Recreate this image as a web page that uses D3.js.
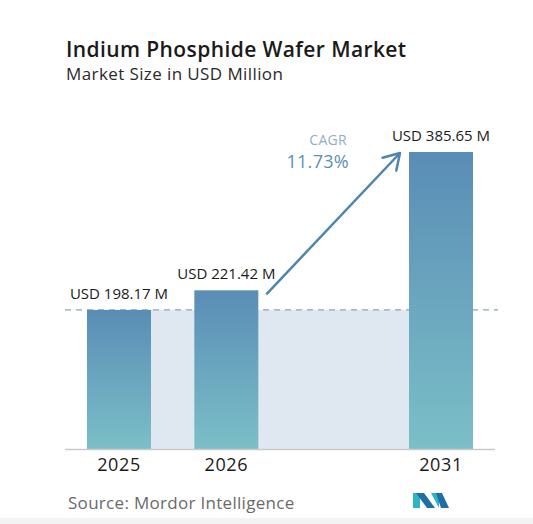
<!DOCTYPE html>
<html>
<head>
<meta charset="utf-8">
<script src="https://cdn.jsdelivr.net/npm/d3@7"></script>
<style>
  html, body { margin: 0; padding: 0; background: #fff; }
  svg { display: block; font-family: "Open Sans", sans-serif; }
</style>
</head>
<body>
<svg id="chart" width="533" height="524"></svg>
<script>
// data
var years = ["2025", "2026", "2031"];
var marketSize = [198.17, 221.42, 385.65];
var valueLabels = ["USD 198.17 M", "USD 221.42 M", "USD 385.65 M"];
var cagrLabel = "CAGR";
var cagrValue = "11.73%";

var title = "Indium Phosphide Wafer Market";
var subtitle = "Market Size in USD Million";
var source = "Source: Mordor Intelligence";

var svg = d3.select("#chart");
var W = 533, H = 524;
var baseY = 449, barW = 64;

// 2025, 2026 sit next to each other, 2031 one slot further
var slot = { "2025": 0, "2026": 1, "2031": 3 };
var x = d3.scaleLinear().domain([0, 3]).range([119, 441]);
var y = d3.scaleLinear().domain([33, 385.65]).range([baseY, 152]);

var data = years.map((d, i) => ({ year: d, value: marketSize[i], label: valueLabels[i] }));

var defs = svg.append("defs");
var grad = defs.append("linearGradient")
    .attr("id", "barGrad")
    .attr("x1", 0).attr("y1", 0).attr("x2", 0).attr("y2", 1);
grad.append("stop").attr("offset", "0%").attr("stop-color", "#5a8db6");
grad.append("stop").attr("offset", "100%").attr("stop-color", "#7bbfc7");

// titles
svg.append("text")
    .attr("x", 66).attr("y", 57)
    .attr("font-size", 21).attr("font-weight", 600)
    .attr("letter-spacing", 0.4)
    .attr("fill", "#1a1a1a")
    .text(title);
svg.append("text")
    .attr("x", 66).attr("y", 80)
    .attr("font-size", 17)
    .attr("letter-spacing", 0.4)
    .attr("fill", "#2a2a2a")
    .text(subtitle);

// shaded band between first and last bar
var first = data[0], last = data[data.length - 1];
svg.append("rect")
    .attr("x", x(slot[first.year]) + barW / 2)
    .attr("y", y(first.value))
    .attr("width", x(slot[last.year]) - barW / 2 - (x(slot[first.year]) + barW / 2))
    .attr("height", baseY - y(first.value))
    .attr("fill", "#dfe8f0");

// dashed reference line at first value
svg.append("line")
    .attr("x1", 65).attr("x2", 498)
    .attr("y1", y(first.value)).attr("y2", y(first.value))
    .attr("stroke", "#8ea5b7")
    .attr("stroke-width", 1.2)
    .attr("stroke-dasharray", "6,5");

// bars
svg.append("g")
  .selectAll("rect")
  .data(data)
  .join("rect")
    .attr("x", d => x(slot[d.year]) - barW / 2)
    .attr("y", d => y(d.value))
    .attr("width", barW)
    .attr("height", d => baseY - y(d.value))
    .attr("fill", "url(#barGrad)");

// value labels
svg.append("g")
  .selectAll("text")
  .data(data)
  .join("text")
    .attr("x", d => x(slot[d.year]))
    .attr("y", d => y(d.value) - 11)
    .attr("text-anchor", "middle")
    .attr("font-size", 15)
    .attr("font-weight", 500)
    .attr("fill", "#1a1a1a")
    .text(d => d.label);

// baseline
svg.append("line")
    .attr("x1", 65).attr("x2", 495)
    .attr("y1", baseY + 0.5).attr("y2", baseY + 0.5)
    .attr("stroke", "#c9c9c9")
    .attr("stroke-width", 1.5);

// year labels
svg.append("g")
  .selectAll("text")
  .data(data)
  .join("text")
    .attr("x", d => x(slot[d.year]))
    .attr("y", 471)
    .attr("text-anchor", "middle")
    .attr("font-size", 18)
    .attr("font-weight", 500)
    .attr("letter-spacing", 0.6)
    .attr("fill", "#1a1a1a")
    .text(d => d.year);

// CAGR arrow from 2026 bar to 2031 bar
var mid = data[1];
var ax1 = x(slot[mid.year]) + barW / 2 + 8, ay1 = y(mid.value) + 4;
var ax2 = x(slot[last.year]) - barW / 2 - 9, ay2 = y(last.value) + 1;
var ang = Math.atan2(ay2 - ay1, ax2 - ax1);
var hl = 18;
svg.append("line")
    .attr("x1", ax1).attr("y1", ay1).attr("x2", ax2).attr("y2", ay2)
    .attr("stroke", "#4f86ad").attr("stroke-width", 2.5);
svg.append("path")
    .attr("d", d3.line()([
      [ax2 - hl * Math.cos(ang - 0.55), ay2 - hl * Math.sin(ang - 0.55)],
      [ax2, ay2],
      [ax2 - hl * Math.cos(ang + 0.55), ay2 - hl * Math.sin(ang + 0.55)]
    ]))
    .attr("fill", "none")
    .attr("stroke", "#4f86ad").attr("stroke-width", 2.5)
    .attr("stroke-linecap", "round").attr("stroke-linejoin", "round");

svg.append("text")
    .attr("x", 347).attr("y", 145)
    .attr("text-anchor", "end")
    .attr("font-size", 14)
    .attr("letter-spacing", 0.3)
    .attr("fill", "#8db0c8")
    .text(cagrLabel);
svg.append("text")
    .attr("x", 349).attr("y", 168)
    .attr("text-anchor", "end")
    .attr("font-size", 18)
    .attr("letter-spacing", 0.3)
    .attr("fill", "#5f90b6")
    .text(cagrValue);

// source
svg.append("text")
    .attr("x", 68).attr("y", 509)
    .attr("font-size", 17)
    .attr("letter-spacing", 0.3)
    .attr("fill", "#6a6a6a")
    .text(source);

// logo
var logo = svg.append("g").attr("transform", "translate(413,493)");
logo.append("path").attr("d", "M0,0 L7,0 L7,15 L0,15 Z").attr("fill", "#2fb3c6");
logo.append("path").attr("d", "M3,0 L11,0 L22,15 L14,15 Z").attr("fill", "#1f6ea6");
logo.append("path").attr("d", "M18,0 L26,0 L26,15 Z").attr("fill", "#2fb3c6");
logo.append("path").attr("d", "M23,0 L29,0 L36,15 L28,15 Z").attr("fill", "#1f6ea6");

// light strip at the bottom edge
svg.append("rect").attr("x", 0).attr("y", 518).attr("width", W).attr("height", 6).attr("fill", "#f3f3f3");
</script>
</body>
</html>
